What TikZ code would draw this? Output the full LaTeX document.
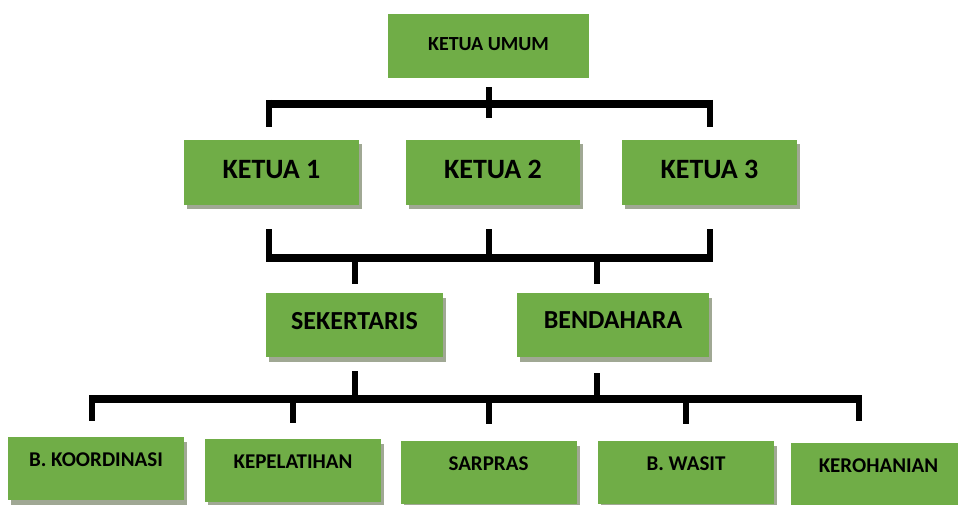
\documentclass[tikz,border=0pt]{standalone}
\usepackage{fontspec}
\setmainfont{Carlito}
\usetikzlibrary{shadows}
\definecolor{boxgreen}{RGB}{112,173,71}
\definecolor{boxshadow}{RGB}{160,168,148}

\begin{document}
\begin{tikzpicture}[x=1pt,y=-1pt,
  box/.style={fill=boxgreen,inner sep=0pt,minimum height=64pt,font=\bfseries},
  shadowed/.style={drop shadow={shadow xshift=3pt,shadow yshift=-4.5pt,fill=boxshadow,opacity=1}},
  bus/.style={line width=8pt},
  stem/.style={line width=6pt}]
\useasboundingbox (0,0) rectangle (958,505);
\clip (0,0) rectangle (958,505);
\node[box,minimum width=201pt,text depth=3pt,font=\bfseries\fontsize{20}{24}\selectfont] (ku) at (488.5,46) {KETUA UMUM};
\node[box,shadowed,minimum width=175pt,minimum height=65pt,text depth=7pt,font=\bfseries\fontsize{28}{32}\selectfont] (k1) at (271.5,172.5) {KETUA 1};
\node[box,shadowed,minimum width=174pt,minimum height=65pt,text depth=7pt,font=\bfseries\fontsize{28}{32}\selectfont] (k2) at (493,172.5) {KETUA 2};
\node[box,shadowed,minimum width=175pt,minimum height=65pt,text depth=7pt,font=\bfseries\fontsize{28}{32}\selectfont] (k3) at (709.5,172.5) {KETUA 3};
\node[box,shadowed,minimum width=177pt,text depth=9pt,font=\bfseries\fontsize{26}{30}\selectfont] (sek) at (354.5,325) {SEKERTARIS};
\node[box,shadowed,minimum width=192pt,text depth=9pt,font=\bfseries\fontsize{26}{30}\selectfont] (ben) at (613,325) {BENDAHARA};
\node[box,shadowed,minimum width=176pt,minimum height=63pt,text depth=17pt,font=\bfseries\fontsize{21}{25}\selectfont] (b1) at (96,468.5) {B. KOORDINASI};
\node[box,shadowed,minimum width=176pt,minimum height=63pt,text depth=17pt,font=\bfseries\fontsize{21}{25}\selectfont] (b2) at (293,470.5) {KEPELATIHAN};
\node[box,shadowed,minimum width=176pt,minimum height=63pt,text depth=17pt,font=\bfseries\fontsize{21}{25}\selectfont] (b3) at (488.5,472.5) {SARPRAS};
\node[box,shadowed,minimum width=176pt,minimum height=63pt,text depth=17pt,font=\bfseries\fontsize{21}{25}\selectfont] (b4) at (686,472.5) {B. WASIT};
\node[box,shadowed,minimum width=175pt,minimum height=63pt,text depth=17pt,font=\bfseries\fontsize{21}{25}\selectfont] (b5) at (878.5,474.5) {KEROHANIAN};
\coordinate (u1) at (269,104);
\coordinate (u3) at (710,104);
\coordinate (v1) at (269,258);
\coordinate (v2) at (489,258);
\coordinate (v3) at (710,258);
\coordinate (w1) at (92,399);
\coordinate (w5) at (859,399);
\draw[stem] ([yshift=-9pt]ku.south) -- ([yshift=-40pt]ku.south);
\draw[bus] ([xshift=-3pt]u1) -- ([xshift=3pt]u3);
\draw[stem] ([yshift=4pt]u1) -- ([yshift=13pt]k1.north -| u1);
\draw[stem] ([yshift=4pt]u3) -- ([yshift=13pt]k3.north -| u3);
\draw[stem] ([yshift=-24pt]k1.south -| v1) -- (v1);
\draw[stem] ([yshift=-24pt]k2.south -| v2) -- (v2);
\draw[stem] ([yshift=-24pt]k3.south -| v3) -- (v3);
\draw[bus] ([xshift=-3pt]v1) -- ([xshift=3pt]v3);
\draw[stem] (sek.north |- v1) -- ([yshift=9pt]sek.north);
\draw[stem] ([xshift=-16pt]ben.north |- v1) -- ([xshift=-16pt,yshift=9pt]ben.north);
\draw[stem] ([yshift=-14pt]sek.south) -- (sek.south |- w1);
\draw[stem] ([xshift=-16pt,yshift=-16pt]ben.south) -- ([xshift=-16pt]ben.south |- w1);
\draw[bus] ([xshift=-3pt]w1) -- ([xshift=3pt]w5);
\draw[stem] (w1) -- ([yshift=16pt]b1.north -| w1);
\draw[stem] (b2.north |- w1) -- ([yshift=16pt]b2.north);
\draw[stem] (b3.north |- w1) -- ([yshift=17pt]b3.north);
\draw[stem] (b4.north |- w1) -- ([yshift=17pt]b4.north);
\draw[stem] (w5) -- ([yshift=22pt]b5.north -| w5);
\end{tikzpicture}
\end{document}
